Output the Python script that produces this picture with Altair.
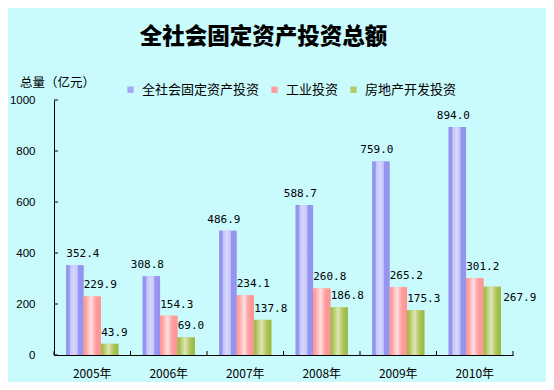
import altair as alt
import pandas as pd

years = ["2005年", "2006年", "2007年", "2008年", "2009年", "2010年"]
series = ["全社会固定资产投资", "工业投资", "房地产开发投资"]
total = [352.4, 308.8, 486.9, 588.7, 759.0, 894.0]
industry = [229.9, 154.3, 234.1, 260.8, 265.2, 301.2]
realestate = [43.9, 69.0, 137.8, 186.8, 175.3, 267.9]
y_ticks = [0, 200, 400, 600, 800, 1000]

rows = []
for s, vals in zip(series, [total, industry, realestate]):
    for y, v in zip(years, vals):
        rows.append({"year": y, "series": s, "value": v, "label": f"{v:.1f}"})
df = pd.DataFrame(rows)

W, H = 459, 255
CJK = "Noto Sans CJK SC"

solid = ["#a8a8f2", "#ff9e9e", "#b4c864"]

def grad(stops):
    return alt.LinearGradient(
        gradient="linear", x1=0, x2=1, y1=0, y2=0,
        stops=[alt.GradientStop(offset=o, color=c) for o, c in stops],
    )

grads = [
    grad([(0, "#9494f0"), (0.18, "#9696f0"), (0.24, "#c6c6fa"), (0.45, "#d6d6fd"),
          (0.64, "#c6c6fa"), (0.70, "#9696f0"), (1, "#9494f0")]),
    grad([(0, "#ff9494"), (0.12, "#ff9e9e"), (0.3, "#ffc4c4"), (0.45, "#ffe0e0"),
          (0.6, "#ffb4b4"), (0.75, "#ff9a9a"), (1, "#ff9494")]),
    grad([(0, "#9cb844"), (0.12, "#a8c252"), (0.3, "#c8d68c"), (0.45, "#e0e6b4"),
          (0.6, "#c2d280"), (0.75, "#aac456"), (1, "#9ab642")]),
]

x_scale = alt.Scale(domain=years, paddingInner=0, paddingOuter=0)
x_axis = alt.Axis(labelAngle=0, ticks=False, domainColor="#000000", labelPadding=13,
                  labelFont=CJK, labelFontSize=12, labelColor="#000000", zindex=1)
x_enc = alt.X("year:N", sort=years, title=None, scale=x_scale, axis=x_axis)
xo_enc = alt.XOffset("series:N", sort=series,
                     scale=alt.Scale(domain=series, paddingInner=0, paddingOuter=0.7))
y_scale = alt.Scale(domain=[0, 1000], nice=False)
y_axis = alt.Axis(values=y_ticks, format="d", grid=False, ticks=False, domainColor="#000000",
                  labelPadding=19, labelFont="Liberation Sans", labelFontSize=11.5,
                  labelColor="#000000", zindex=1,
                  title="总量（亿元）", titleAngle=0, titleX=3, titleY=-18,
                  titleAlign="center", titleBaseline="middle", titleFont=CJK,
                  titleFontSize=12.5, titleFontWeight="normal", titleColor="#000000")
y_enc = alt.Y("value:Q", scale=y_scale, axis=y_axis)

bg = alt.Chart(alt.Data(values=[{}])).mark_rect(color="#c9fbfd").encode(
    x=alt.value(-50), x2=alt.value(495), y=alt.value(-96), y2=alt.value(285)
)

base = alt.Chart(df).mark_bar().encode(
    x=x_enc, xOffset=xo_enc, y=y_enc,
    color=alt.Color(
        "series:N", sort=series,
        scale=alt.Scale(domain=series, range=solid),
        legend=alt.Legend(
            title=None, orient="none", direction="horizontal",
            legendX=70, legendY=-17, symbolType="square", symbolSize=40,
            symbolStrokeWidth=0, labelOffset=5, columnPadding=8,
            labelFont=CJK, labelFontSize=13, labelColor="#000000", zindex=1,
        ),
    ),
)

grad_layers = [
    alt.Chart(df).transform_filter(alt.datum.series == s)
    .mark_bar(fill=g).encode(x=x_enc, xOffset=xo_enc, y=y_enc)
    for s, g in zip(series, grads)
]

text_kw = dict(font="DejaVu Sans Mono", fontSize=11, color="#000000", baseline="alphabetic")

lab_center = alt.Chart(df).transform_filter(
    (alt.datum.series == series[0]) & (alt.datum.year != years[0])
).mark_text(align="center", dx=-4, dy=-8, **text_kw).encode(
    x=x_enc, xOffset=xo_enc, y=y_enc, text="label:N")

lab_left = alt.Chart(df).transform_filter(
    ((alt.datum.series != series[0]) | (alt.datum.year == years[0]))
    & ~((alt.datum.series == series[2]) & (alt.datum.year == years[5]))
).mark_text(align="left", dx=-8.5, dy=-8, **text_kw).encode(
    x=x_enc, xOffset=xo_enc, y=y_enc, text="label:N")

lab_side = alt.Chart(df).transform_filter(
    (alt.datum.series == series[2]) & (alt.datum.year == years[5])
).mark_text(align="left", dx=11, dy=14, **text_kw).encode(
    x=x_enc, xOffset=xo_enc, y=y_enc, text="label:N")

ytick = alt.Chart(pd.DataFrame({"value": y_ticks})).mark_rule(color="#000000").encode(
    y=y_enc, x=alt.value(0), x2=alt.value(4),
)
xtick = alt.Chart(pd.DataFrame({"year": years})).mark_rule(color="#000000").encode(
    x=alt.X("year:N", sort=years, title=None, bandPosition=0, scale=x_scale, axis=x_axis),
    y=alt.value(H), y2=alt.value(H - 4),
)
xtick_end = alt.Chart(alt.Data(values=[{}])).mark_rule(color="#000000").encode(
    x=alt.value(W), y=alt.value(H), y2=alt.value(H - 4)
)

title = alt.Chart(alt.Data(values=[{}])).mark_text(
    text="全社会固定资产投资总额", font=CJK, fontSize=22.5, fontWeight=900,
    color="#000000", align="center", baseline="middle"
).encode(x=alt.value(209.5), y=alt.value(-63))

chart = alt.layer(
    bg, base, *grad_layers, lab_center, lab_left, lab_side, ytick, xtick, xtick_end, title
).properties(
    width=W, height=H,
    autosize=alt.AutoSizeParams(type="none"),
    padding={"left": 46, "top": 92, "right": 33, "bottom": 27},
    background="#ffffff",
).configure_view(stroke=None)

chart.save("out.html", embed_options={"renderer": "svg", "actions": False})
